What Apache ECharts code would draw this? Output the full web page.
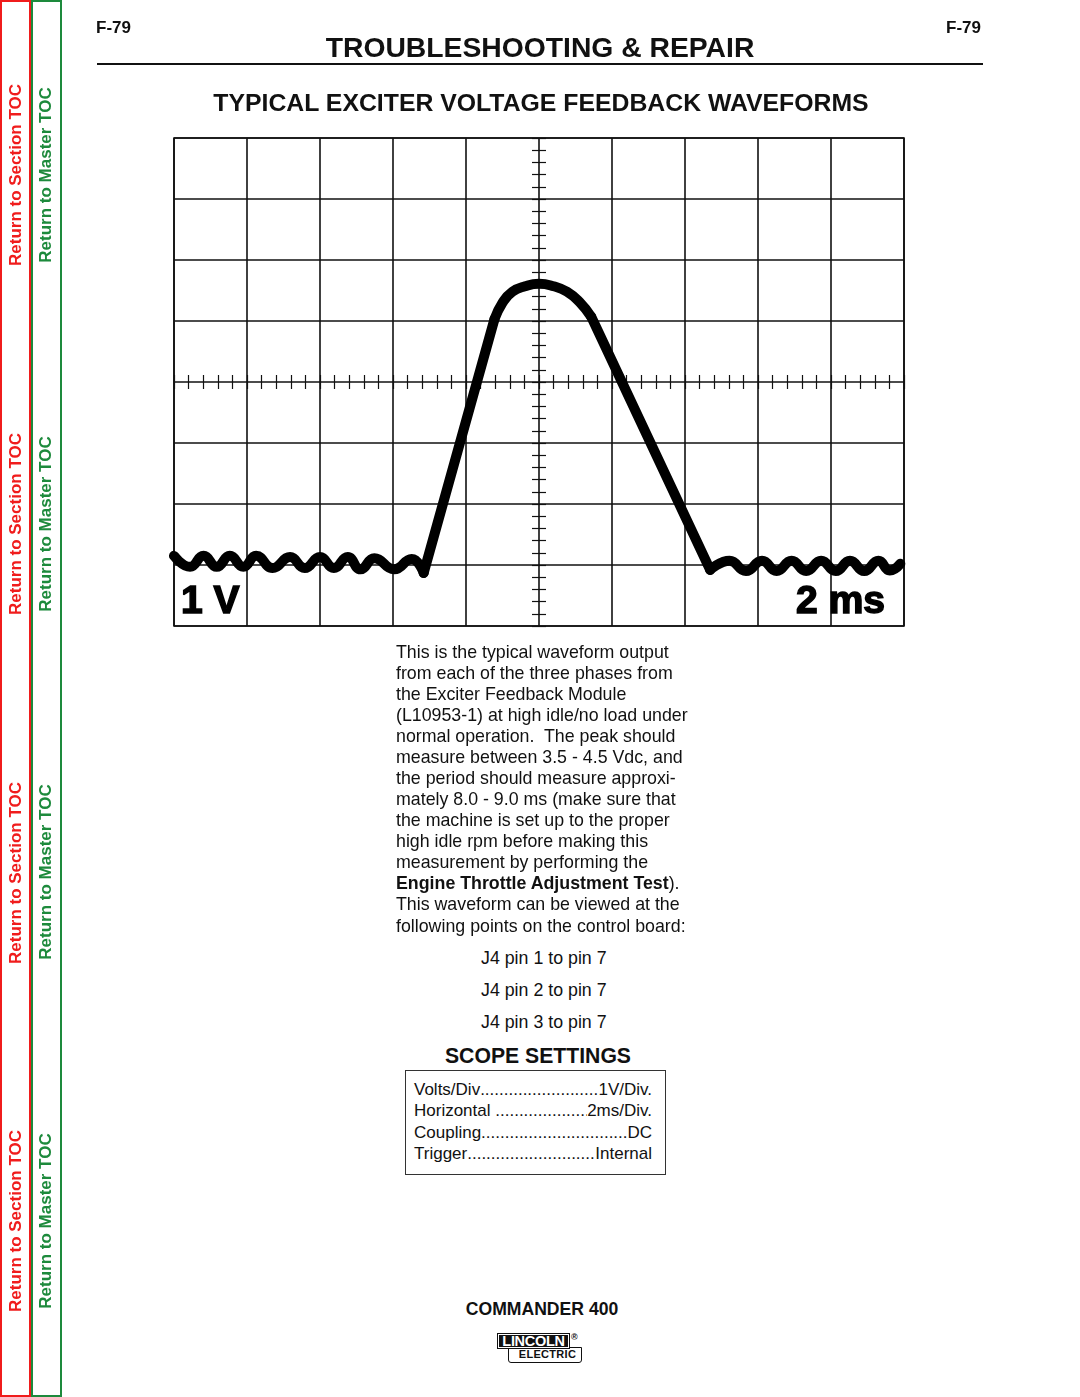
<!DOCTYPE html>
<html>
<head>
<meta charset="utf-8">
<script src="https://cdn.jsdelivr.net/npm/echarts@6/dist/echarts.min.js"></script>
<style>
  html, body { margin:0; padding:0; background:#fff; }
  body { width:1080px; height:1397px; position:relative; overflow:hidden;
         font-family:"Liberation Sans", Arial, Helvetica, sans-serif; color:#111; }
  .abs { position:absolute; white-space:nowrap; }
  .side { position:absolute; top:0; height:1397px; width:31px; box-sizing:border-box; }
  .rot { position:absolute; white-space:nowrap; font-weight:bold; font-size:17px;
         transform:translate(-50%,-50%) rotate(-90deg); line-height:17px; }
  #chart { position:absolute; left:0; top:0; width:1080px; height:660px; }
  .lead { display:flex; width:238px; font-size:17px; line-height:21.3px; }
  .lead .dots { flex:1; overflow:hidden; white-space:nowrap; }
</style>
</head>
<body>
<div id="chart"></div>

<div class="side" style="left:0; border:2px solid #f01c1c;"></div>
<div class="side" style="left:31px; border:2px solid #1d8a3c;"></div>
<div class="rot" style="left:15px; top:175px; color:#f01c1c;">Return to Section TOC</div>
<div class="rot" style="left:15px; top:524px; color:#f01c1c;">Return to Section TOC</div>
<div class="rot" style="left:15px; top:873px; color:#f01c1c;">Return to Section TOC</div>
<div class="rot" style="left:15px; top:1221px; color:#f01c1c;">Return to Section TOC</div>
<div class="rot" style="left:45px; top:175px; color:#1d8a3c;">Return to Master TOC</div>
<div class="rot" style="left:45px; top:524px; color:#1d8a3c;">Return to Master TOC</div>
<div class="rot" style="left:45px; top:872px; color:#1d8a3c;">Return to Master TOC</div>
<div class="rot" style="left:45px; top:1221px; color:#1d8a3c;">Return to Master TOC</div>

<div class="abs" style="left:96px; top:18.5px; font-weight:bold; font-size:17px; line-height:17px;">F-79</div>
<div class="abs" style="left:946px; top:18.5px; font-weight:bold; font-size:17px; line-height:17px;">F-79</div>
<div class="abs" style="left:540px; top:33px; transform:translateX(-50%); font-weight:bold; font-size:28.3px; line-height:28px;">TROUBLESHOOTING &amp; REPAIR</div>
<div class="abs" style="left:97px; top:62.5px; width:886px; height:2px; background:#111;"></div>
<div class="abs" style="left:541px; top:91px; transform:translateX(-50%); font-weight:bold; font-size:24.8px; line-height:24.5px;">TYPICAL EXCITER VOLTAGE FEEDBACK WAVEFORMS</div>

<div class="abs" style="left:396px; top:641.5px; font-size:17.8px; line-height:21.08px;">This is the typical waveform output<br>from each of the three phases from<br>the Exciter Feedback Module<br>(L10953-1) at high idle/no load under<br>normal operation.&nbsp; The peak should<br>measure between 3.5 - 4.5 Vdc, and<br>the period should measure approxi-<br>mately 8.0 - 9.0 ms (make sure that<br>the machine is set up to the proper<br>high idle rpm before making this<br>measurement by performing the<br><b>Engine Throttle Adjustment Test</b>).<br>This waveform can be viewed at the<br>following points on the control board:</div>

<div class="abs" style="left:481px; top:947.5px; font-size:17.8px; line-height:21px;">J4 pin 1 to pin 7</div>
<div class="abs" style="left:481px; top:979.5px; font-size:17.8px; line-height:21px;">J4 pin 2 to pin 7</div>
<div class="abs" style="left:481px; top:1011.5px; font-size:17.8px; line-height:21px;">J4 pin 3 to pin 7</div>

<div class="abs" style="left:538px; top:1045px; transform:translateX(-50%); font-weight:bold; font-size:21.2px; line-height:21px;">SCOPE SETTINGS</div>
<div class="abs" style="left:405px; top:1070px; width:261px; height:105px; box-sizing:border-box; border:1.3px solid #333;"></div>
<div class="abs" style="left:414px; top:1079px;">
  <div class="lead"><span>Volts/Div</span><span class="dots">..................................................</span><span>1V/Div.</span></div>
  <div class="lead"><span>Horizontal&nbsp;</span><span class="dots">..................................................</span><span>2ms/Div.</span></div>
  <div class="lead"><span>Coupling</span><span class="dots">..................................................</span><span>DC</span></div>
  <div class="lead"><span>Trigger</span><span class="dots">..................................................</span><span>Internal</span></div>
</div>

<div class="abs" style="left:542px; top:1301px; transform:translateX(-50%); font-weight:bold; font-size:17.6px; line-height:17.6px;">COMMANDER 400</div>
<div class="abs" style="left:508px; top:1347px; width:74px; height:16px; box-sizing:border-box; border:1.6px solid #111; border-radius:0 0 3px 3px; font-weight:bold; font-size:11px; line-height:13px; text-align:center; padding-left:5px; letter-spacing:0.3px;">ELECTRIC</div>
<div class="abs" style="left:497px; top:1333px; width:73px; height:16px; box-sizing:border-box; background:#111; border:1px solid #111; outline:1px solid #fff; outline-offset:-2px; color:#fff; font-weight:bold; font-size:14.5px; line-height:14px; text-align:center; letter-spacing:-0.3px;">LINCOLN</div>
<div class="abs" style="left:571px; top:1333px; font-weight:bold; font-size:9px; line-height:9px;">®</div>

<script>
// Axis scales: time in ms (2 ms/div), voltage in V (1 V/div)
const timeRange = [-10, 10];
const timeStep = 2;
const voltRange = [-4, 4];
const voltStep = 1;
const scaleLabels = ['1 V', '2 ms'];

// Waveform: [ms, V]
const baselineBefore = [
  [-10.00, -2.85], [-9.56, -3.03], [-9.19, -2.85], [-8.83, -3.03], [-8.47, -2.85],
  [-8.10, -3.03], [-7.75, -2.85], [-7.30, -3.05], [-6.82, -2.87], [-6.42, -3.05],
  [-6.00, -2.87], [-5.62, -3.05], [-5.24, -2.87], [-4.89, -3.07], [-4.51, -2.89],
  [-3.97, -3.07], [-3.49, -2.90], [-3.16, -3.13]
];
const risingEdge = [[-3.16, -3.13], [-1.22, 1.03]];
const peakArc = [
  [-1.22, 1.03], [-1.00, 1.30], [-0.73, 1.48], [-0.38, 1.57], [0.00, 1.61],
  [0.40, 1.57], [0.77, 1.48], [1.11, 1.31], [1.43, 1.07]
];
const fallingEdge = [[1.43, 1.07], [4.69, -3.08]];
const baselineAfter = [
  [4.69, -3.08], [5.22, -2.93], [5.67, -3.10], [6.11, -2.93], [6.51, -3.10],
  [6.92, -2.93], [7.32, -3.10], [7.73, -2.93], [8.13, -3.10], [8.52, -2.93],
  [8.91, -3.10], [9.30, -2.93], [9.61, -3.09], [9.90, -2.98]
];

const ink = '#111';
const chart = echarts.init(document.getElementById('chart'), null, { renderer: 'canvas' });

function tickAxis(kind, inside) {
  return {
    type: 'value',
    min: kind === 'x' ? timeRange[0] : voltRange[0],
    max: kind === 'x' ? timeRange[1] : voltRange[1],
    interval: kind === 'x' ? timeStep : voltStep,
    position: kind === 'x' ? 'bottom' : 'left',
    offset: kind === 'x' ? -244 : -365,
    axisLine: { show: false, onZero: false },
    axisTick: { show: true, inside: inside, length: 7, lineStyle: { color: ink, width: 1.2 } },
    minorTick: { show: true, splitNumber: 5, length: 7, lineStyle: { color: ink, width: 1.2 } },
    axisLabel: { show: false },
    splitLine: { show: false }
  };
}

function mainAxis(kind) {
  return {
    type: 'value',
    min: kind === 'x' ? timeRange[0] : voltRange[0],
    max: kind === 'x' ? timeRange[1] : voltRange[1],
    interval: kind === 'x' ? timeStep : voltStep,
    position: kind === 'x' ? 'bottom' : 'left',
    axisLine: { show: false, onZero: false },
    axisTick: { show: false },
    axisLabel: { show: false },
    splitLine: { show: true, lineStyle: { color: ink, width: 1.6 } }
  };
}

const traceStyle = { color: '#000', width: 10, cap: 'round', join: 'round' };
function trace(data, smooth) {
  return {
    type: 'line', data: data, smooth: smooth, symbol: 'none', showSymbol: false,
    xAxisIndex: 0, yAxisIndex: 0, clip: false, z: 10,
    lineStyle: traceStyle, silent: true
  };
}

chart.setOption({
  animation: false,
  backgroundColor: 'transparent',
  grid: {
    left: 174, top: 138, width: 730, height: 488,
    show: true, borderColor: ink, borderWidth: 1.6, backgroundColor: 'transparent',
    containLabel: false, outerBoundsMode: 'none'
  },
  xAxis: [mainAxis('x'), tickAxis('x', true), tickAxis('x', false)],
  yAxis: [mainAxis('y'), tickAxis('y', true), tickAxis('y', false)],
  series: [
    trace(baselineBefore, 0.5),
    trace(risingEdge, false),
    trace(peakArc, 0.5),
    trace(fallingEdge, false),
    trace(baselineAfter, 0.5)
  ],
  graphic: [
    { type: 'text', x: 181, y: 602, z: 20,
      style: { text: scaleLabels[0], font: 'bold 39px "Liberation Sans", Arial, sans-serif',
               fill: '#000', stroke: '#000', lineWidth: 1.5, align: 'left', verticalAlign: 'middle' } },
    { type: 'text', x: 885, y: 602, z: 20,
      style: { text: scaleLabels[1], font: 'bold 39px "Liberation Sans", Arial, sans-serif',
               fill: '#000', stroke: '#000', lineWidth: 1.5, align: 'right', verticalAlign: 'middle' } }
  ]
});
</script>
</body>
</html>
